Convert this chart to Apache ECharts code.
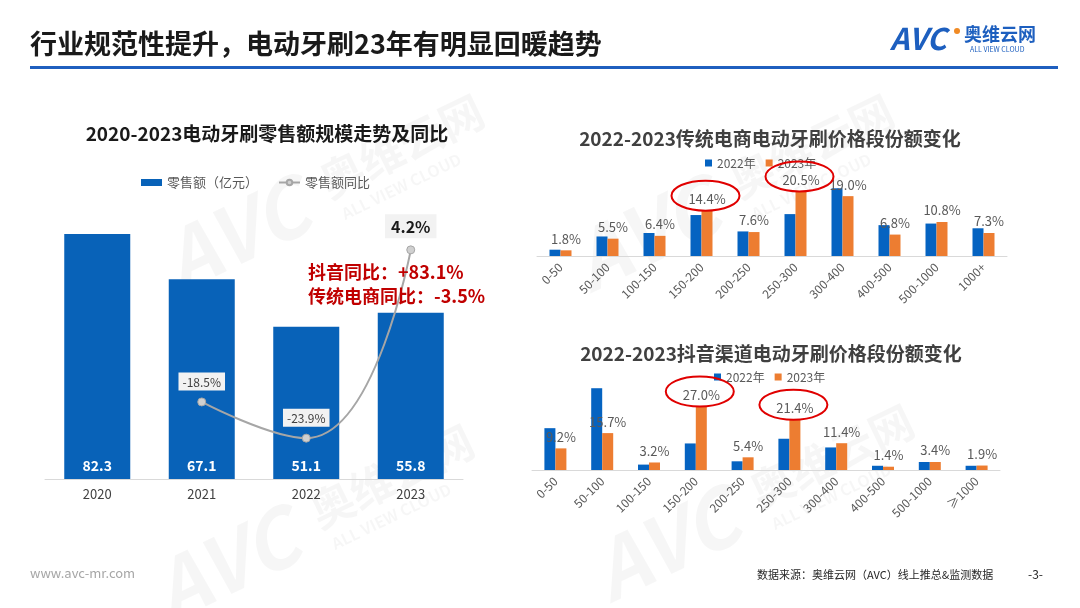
<!DOCTYPE html>
<html>
<head>
<meta charset="utf-8">
<script src="https://cdn.jsdelivr.net/npm/echarts@6/dist/echarts.min.js"></script>
<style>
    html, body { margin: 0; padding: 0; background: #fff; }
    #main { width: 1080px; height: 608px; }
</style>
</head>
<body>
<div id="main"></div>
<script>
// 左图：零售额及同比
var years = ['2020', '2021', '2022', '2023'];
var retail = [82.3, 67.1, 51.1, 55.8];
var retailYoy = ['-', -18.5, -23.9, 4.2];

// 右上：传统电商价格段份额
var ecomBands = ['0-50', '50-100', '100-150', '150-200', '200-250', '250-300', '300-400', '400-500', '500-1000', '1000+'];
var ecom2022 = [2.0, 6.2, 7.3, 13.0, 7.8, 13.3, 21.5, 9.8, 10.3, 8.8];
var ecom2023 = [1.8, 5.5, 6.4, 14.4, 7.6, 20.5, 19.0, 6.8, 10.8, 7.3];

// 右下：抖音渠道价格段份额
var dyBands = ['0-50', '50-100', '100-150', '150-200', '200-250', '250-300', '300-400', '400-500', '500-1000', '≥1000'];
var douyin2022 = [17.8, 34.8, 2.3, 11.3, 3.7, 13.3, 9.6, 1.8, 3.4, 1.8];
var douyin2023 = [9.2, 15.7, 3.2, 27.0, 5.4, 21.4, 11.4, 1.4, 3.4, 1.9];

var FONT = '"Noto Sans CJK SC", "Noto Sans", sans-serif';
var BLUE = '#0563c1';
var ORANGE = '#ed7d31';

var chart = echarts.init(document.getElementById('main'));

// 水印
function watermark(x, y) {
    return {
        type: 'group', x: x, y: y, rotation: 0.45, silent: true,
        children: [
            {type: 'text', x: 0, y: 0, style: {text: 'AVC', font: 'italic bold 80px ' + FONT, fill: 'rgba(0,0,0,0.035)'}},
            {type: 'text', x: 175, y: 12, style: {text: '奥维云网', font: 'bold 44px ' + FONT, fill: 'rgba(0,0,0,0.035)'}},
            {type: 'text', x: 180, y: 62, style: {text: 'ALL VIEW CLOUD', font: 'bold 16px ' + FONT, fill: 'rgba(0,0,0,0.035)'}}
        ]
    };
}

var yoyData = retailYoy.map(function (v, i) {
    if (i === retailYoy.length - 1) {
        return {
            value: v,
            label: {fontSize: 16, fontWeight: 'bold', color: '#1a1a1a', padding: [5, 6, 3, 6], distance: 7}
        };
    }
    return v;
});

var option = {
    animation: false,
    textStyle: {fontFamily: FONT},
    title: [
        {text: '2020-2023电动牙刷零售额规模走势及同比', left: 262, top: 119, textAlign: 'center',
            textStyle: {fontSize: 19, fontWeight: 'bold', color: '#1a1a1a', fontFamily: FONT}},
        {text: '2022-2023传统电商电动牙刷价格段份额变化', left: 765, top: 124, textAlign: 'center',
            textStyle: {fontSize: 19, fontWeight: 'bold', color: '#404040', fontFamily: FONT}},
        {text: '2022-2023抖音渠道电动牙刷价格段份额变化', left: 766, top: 339, textAlign: 'center',
            textStyle: {fontSize: 19, fontWeight: 'bold', color: '#404040', fontFamily: FONT}}
    ],
    legend: [
        {
            left: 136, top: 171, itemWidth: 21, itemHeight: 7, itemGap: 20,
            textStyle: {fontSize: 13, color: '#595959', fontFamily: FONT},
            data: [{name: '零售额（亿元）', icon: 'rect'}, {name: '零售额同比'}]
        },
        {
            left: 700, top: 152, itemWidth: 7, itemHeight: 7, itemGap: 10, icon: 'rect',
            textStyle: {fontSize: 12, color: '#595959', fontFamily: FONT},
            data: ['2022年', '2023年']
        },
        {
            left: 709, top: 366, itemWidth: 7, itemHeight: 7, itemGap: 10, icon: 'rect',
            textStyle: {fontSize: 12, color: '#595959', fontFamily: FONT},
            data: ['2022年', '2023年']
        }
    ],
    grid: [
        {left: 45, right: 617, top: 211, bottom: 129},
        {left: 537, right: 73, top: 161.5, bottom: 352},
        {left: 532, right: 80, top: 376, bottom: 138}
    ],
    xAxis: [
        {
            type: 'category', gridIndex: 0, data: years,
            axisLine: {lineStyle: {color: '#d9d9d9'}}, axisTick: {show: false},
            axisLabel: {fontSize: 13, color: '#404040', margin: 9}
        },
        {
            type: 'category', gridIndex: 1, data: ecomBands,
            axisLine: {lineStyle: {color: '#d9d9d9'}}, axisTick: {show: false},
            axisLabel: {fontSize: 12, color: '#595959', rotate: 45, margin: 9, interval: 0}
        },
        {
            type: 'category', gridIndex: 2, data: dyBands,
            axisLine: {lineStyle: {color: '#d9d9d9'}}, axisTick: {show: false},
            axisLabel: {fontSize: 12, color: '#595959', rotate: 45, margin: 9, interval: 0}
        }
    ],
    yAxis: [
        {type: 'value', gridIndex: 0, min: 0, max: 90, show: false},
        {type: 'value', gridIndex: 0, min: -30, max: 10, show: false},
        {type: 'value', gridIndex: 1, min: 0, max: 30, show: false},
        {type: 'value', gridIndex: 2, min: 0, max: 40, show: false}
    ],
    series: [
        {
            name: '零售额（亿元）', type: 'bar', xAxisIndex: 0, yAxisIndex: 0,
            data: retail, barWidth: 66, itemStyle: {color: '#0862b8'},
            label: {show: true, position: 'insideBottom', distance: 6, color: '#fff', fontSize: 14, fontWeight: 'bold'}
        },
        {
            name: '零售额同比', type: 'line', xAxisIndex: 0, yAxisIndex: 1,
            data: yoyData, smooth: 0.5, symbol: 'circle', symbolSize: 8,
            lineStyle: {color: '#a6a6a6', width: 2},
            itemStyle: {color: '#d0d0d0', borderColor: '#a6a6a6', borderWidth: 1},
            label: {
                show: true, position: 'top', distance: 7, fontSize: 12, color: '#404040',
                backgroundColor: '#f2f2f2', padding: [4, 4, 2, 4],
                formatter: function (p) { return p.value + '%'; }
            },
            z: 3
        },
        {
            name: '2022年', type: 'bar', xAxisIndex: 1, yAxisIndex: 2,
            data: ecom2022, barWidth: 11, barGap: '0%', itemStyle: {color: BLUE}
        },
        {
            name: '2023年', type: 'bar', xAxisIndex: 1, yAxisIndex: 2,
            data: ecom2023, barWidth: 11, barGap: '0%', itemStyle: {color: ORANGE},
            label: {
                show: true, position: 'top', distance: 5, fontSize: 13, color: '#595959',
                formatter: function (p) { return p.value.toFixed(1) + '%'; }
            }
        },
        {
            name: '2022年', type: 'bar', xAxisIndex: 2, yAxisIndex: 3,
            data: douyin2022, barWidth: 11, barGap: '0%', itemStyle: {color: BLUE}
        },
        {
            name: '2023年', type: 'bar', xAxisIndex: 2, yAxisIndex: 3,
            data: douyin2023, barWidth: 11, barGap: '0%', itemStyle: {color: ORANGE},
            label: {
                show: true, position: 'top', distance: 5, fontSize: 13, color: '#595959',
                formatter: function (p) { return p.value.toFixed(1) + '%'; }
            }
        }
    ]
};

chart.setOption(option);

// 红圈标注，位置取自坐标轴换算
function ring(grid, idx, val) {
    var pt = chart.convertToPixel({gridIndex: grid}, [idx, val]);
    return {
        type: 'ellipse', silent: true, z: 10,
        shape: {cx: pt[0] + 4, cy: pt[1] - 15, rx: 34, ry: 15},
        style: {fill: 'none', stroke: '#e00000', lineWidth: 2}
    };
}

chart.setOption({
    graphic: [
        watermark(150, 230),
        watermark(140, 560),
        watermark(560, 230),
        watermark(580, 540),
        // 页头
        {type: 'text', x: 30, y: 30, style: {text: '行业规范性提升，电动牙刷23年有明显回暖趋势', font: 'bold 27px ' + FONT, fill: '#1a1a1a'}},
        {type: 'rect', shape: {x: 30, y: 66, width: 1028, height: 3}, style: {fill: '#1f5fbf'}},
        {type: 'text', x: 890, y: 24, style: {text: 'AVC', font: 'italic bold 30px ' + FONT, fill: '#1d5fbf'}},
        {type: 'circle', shape: {cx: 957, cy: 31, r: 3}, style: {fill: '#f08a24'}},
        {type: 'text', x: 964, y: 25, style: {text: '奥维云网', font: 'bold 18px ' + FONT, fill: '#1d5fbf'}},
        {type: 'text', x: 970, y: 46, style: {text: 'ALL VIEW CLOUD', font: '7px ' + FONT, fill: '#1d5fbf'}},
        // 左图说明
        {type: 'text', x: 308, y: 263, z: 10, style: {text: '抖音同比：+83.1%', font: 'bold 18px ' + FONT, fill: '#c00000'}},
        {type: 'text', x: 308, y: 287, z: 10, style: {text: '传统电商同比：-3.5%', font: 'bold 18px ' + FONT, fill: '#c00000'}},
        ring(1, 3, ecom2023[3]),
        ring(1, 5, ecom2023[5]),
        ring(2, 3, douyin2023[3]),
        ring(2, 5, douyin2023[5]),
        // 页脚
        {type: 'text', x: 30, y: 567, style: {text: 'www.avc-mr.com', font: '13px ' + FONT, fill: '#a6a6a6'}},
        {type: 'text', x: 757, y: 569, style: {text: '数据来源：奥维云网（AVC）线上推总&监测数据', font: '11px ' + FONT, fill: '#262626'}},
        {type: 'text', x: 1028, y: 568, style: {text: '-3-', font: '12px ' + FONT, fill: '#262626'}}
    ]
});
</script>
</body>
</html>
